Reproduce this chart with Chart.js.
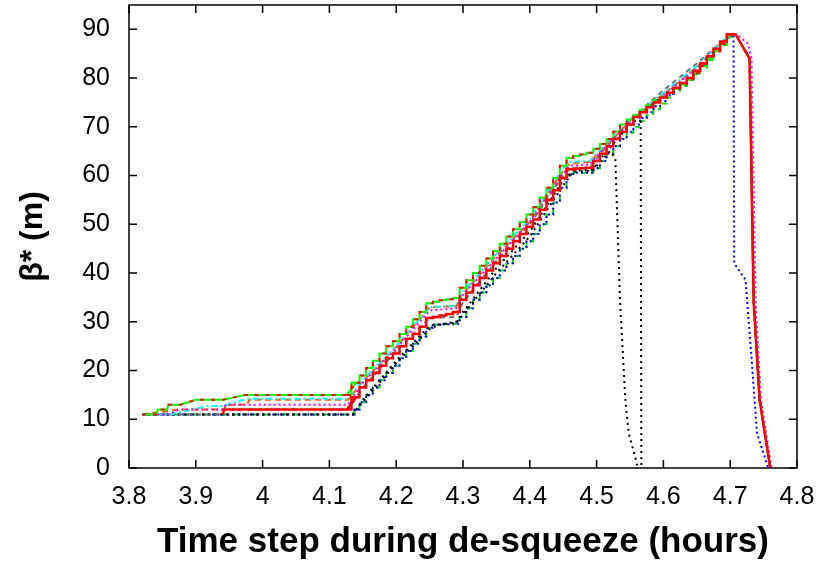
<!DOCTYPE html>
<html>
<head>
<meta charset="utf-8">
<script src="https://cdn.jsdelivr.net/npm/chart.js@4.4.1/dist/chart.umd.min.js"></script>
<style>
  body { margin: 0; background: #fff; }
  #wrap { width: 823px; height: 567px; }
</style>
</head>
<body>
<div id="wrap"><canvas id="betaChart"></canvas></div>
<script>
// shared time grid for the rising part (hours)
var riseT = [4.14,4.15,4.16,4.17,4.18,4.19,4.20,4.21,4.22,4.23,4.24,
             4.25,4.26,4.27,4.28,4.29,
             4.30,4.31,4.32,4.33,4.34,4.35,4.36,4.37,4.38,4.39,4.40,4.41,4.42,4.43,4.44,4.45,
             4.46,4.47,4.48,4.49,
             4.50,4.51,4.52,4.53,4.54,4.55,4.56,4.57,4.58,4.59,4.60,4.61,4.62,4.63,4.64,4.65,4.66,4.67,4.68,4.69,4.70];

// red solid
var redHeadT = [3.94,3.943,4.126];
var redHeadV = [11,12,12];
var redRise = [14.5,16.5,18,19.5,21,22.5,23.5,25,26.5,27.5,29,
               30.8,31,31.3,31.6,32,
               34.5,36,37.5,39,40.5,42,43.5,45,46.5,48,49.5,51,53,55,57,59.5,
               61.3,61.4,61.5,61.6,
               63,64.5,66,67.5,69,70.5,72,73,74,75,76,77,78,79,80,81.5,83,84.5,86,87.5,89];
var redTailT = [4.708,4.725,4.729,4.735,4.744,4.76];
var redTailV = [89,85,84,34.5,14,0];

// green (top envelope)
var greenHeadT = [3.82,3.841,3.843,3.857,3.859,3.877,3.9,3.941,3.974,4.126];
var greenHeadV = [11,11,12,12,13,13,14,14,15,15];
var greenRise = [17.5,19,20.5,22,23.5,25,26,27.5,29,30.5,32,
                 33.8,34.1,34.4,34.6,34.9,
                 37,38.5,40,41.5,43,44.5,46,47.5,49,50.5,52,53.5,55.5,57.5,59.5,62,
                 63.6,64,64.3,64.7,
                 65.5,66.5,67.5,69,70.5,71.5,72.5,73.5,74.5,75.5,76.2,77,77.8,78.7,79.7,81,82.5,84,85.5,87,88.8];
var greenTailT = [4.708,4.725,4.729,4.735,4.744,4.76];
var greenTailV = [89,84.8,84,34.5,14,0];

// blue dotted (bottom envelope)
var blueHeadT = [3.82,4.135];
var blueHeadV = [11,11];
var blueRise = [12,13.5,15,16.5,18,19.5,21,22.5,24,25.5,27,
                28.8,29.4,29.5,29.5,29.6,
                31,32.8,34.5,36,37.5,39,40.5,42,43.5,45,46.5,48,50,52,54.5,57.5,
                60,60.6,60.6,60.6,
                61.5,63,64.5,66,67.5,69,70.5,71.8,73,74.2,75.3,76.5,77.7,78.8,80,81.3,82.7,84.2,85.7,87.2,88.7];
var blueTailT = [4.705,4.706,4.723,4.733,4.74,4.757];
var blueTailV = [89,42,38.6,20.7,7.2,0];

// green dashed lower line
var green2HeadT = [3.82,4.135];
var green2HeadV = [11,11];
var green2Rise = [12,13.5,15,16.5,18,19.5,21,22.5,24,25.5,27,
                  28.8,29.4,29.5,29.5,29.6,
                  31,32.8,34.5,36,37.5,39,40.5,42,43.5,45,46.5,48,50,52,54.5,57.5,
                  60,60.6,60.6,60.6,
                  61.5,63,64.5,66,67.5,68.8,70,71.2,72.4,73.6,74.8,76,77.2,78.4,79.6,80.8,82.2,83.7,85.3,86.8,88.3];
var green2TailT = [4.708,4.725,4.73,4.736,4.745,4.76];
var green2TailV = [89,84.8,84,34.5,14,0];

// magenta dotted
var magentaT = [3.82,3.86,3.875,3.94,3.945,4.128,4.15,4.2,4.25,4.29,4.3,4.35,4.4,4.45,4.46,4.49,4.5,4.55,4.6,4.65,4.7,4.71,4.727,4.732,4.738,4.746,4.762];
var magentaV = [11,11,12,12,13,13,17.5,24.5,32.3,32.8,35.5,43,50.5,60.5,62,62.3,64,71,76.5,82,89,89,87,84,34.5,14,0];

// cyan dash-dot
var cyanT = [3.82,3.862,3.917,3.94,3.977,4.128,4.15,4.2,4.25,4.29,4.3,4.35,4.4,4.45,4.46,4.49,4.5,4.55,4.6,4.65,4.7,4.708,4.725,4.729,4.735,4.744,4.76];
var cyanV = [11,11,12.7,12.7,14.2,14.2,18,25,33,33.3,36,44,51,61.5,62.8,63,64.5,71.5,77,82.5,89,89,85,84,34.5,14,0];

// orange dashed
var orangeT = [3.82,3.874,3.943,3.945,3.977,3.98,4.128,4.15,4.2,4.25,4.29,4.3,4.35,4.4,4.45,4.46,4.49,4.5,4.55,4.6,4.65,4.7,4.708,4.725,4.729,4.735,4.744,4.76];
var orangeV = [11,12,12,13,13,14,14,17.8,24.8,33,33.2,35.8,43.5,50.5,61,62.5,62.8,64.2,71.2,76.7,82.2,89,89,85,84,34.5,14,0];

// black dotted, drops early (curved)
var black1T = [3.82,4.135,4.15,4.2,4.25,4.265,4.29,4.3,4.35,4.4,4.45,4.465,4.495,4.5,4.52,4.528,4.535,4.543,4.548,4.555,4.562];
var black1V = [11,11,13.5,21.5,28.5,29.4,29.8,31.5,40,47.5,58,60.8,61,62,65,63.6,34.5,14,7.2,3.7,0];

// black dotted, vertical drop
var black2T = [3.82,4.135,4.15,4.2,4.25,4.29,4.3,4.35,4.4,4.45,4.465,4.495,4.5,4.55,4.566,4.567];
var black2V = [11,11,14,22,29.2,30,32,41,48.5,59,61,61.2,62.5,70.5,72,0];

// grey dashed
var greyT = [3.82,3.935,3.94,4.128,4.15,4.2,4.25,4.29,4.3,4.35,4.4,4.45,4.46,4.49,4.5,4.55,4.6,4.65,4.7,4.708,4.725,4.729,4.735,4.744,4.76];
var greyV = [11,11,12,12,16.5,24,30.8,31,34,42.5,50,60,61.5,61.7,63.5,71.5,77.5,83,89,89,85,84,34.5,14,0];

var xTicks = [3.8,3.9,4.0,4.1,4.2,4.3,4.4,4.5,4.6,4.7,4.8];
var yTicks = [0,10,20,30,40,50,60,70,80,90];

function pts(t, v) {
    return t.map(function (x, i) { return {x: x, y: v[i]}; });
}

function line(data, color, width, dash, stepped) {
    return {
        data: data,
        borderColor: color,
        backgroundColor: color,
        borderWidth: width,
        borderDash: dash || [],
        stepped: stepped || false,
        pointRadius: 0,
        fill: false,
        tension: 0
    };
}

// the flat start and the drop are plain lines, the climb is drawn as stairs
function stairSeries(headT, headV, rise, tailT, tailV, color, width, dash) {
    var head = pts(headT, headV);
    var mid = pts(riseT, rise);
    var tail = pts(tailT, tailV);
    return [
        line([head[head.length - 1]].concat(mid), color, width, dash, 'middle'),
        line(head.concat([mid[0]]), color, width, dash),
        line([mid[mid.length - 1]].concat(tail), color, width, dash)
    ];
}

// first dataset is drawn on top
var datasets = [].concat(
    stairSeries(redHeadT, redHeadV, redRise, redTailT, redTailV, '#ff0000', 2.5, []),
    stairSeries(greenHeadT, greenHeadV, greenRise, greenTailT, greenTailV, '#ff0000', 2, [4, 7]),
    stairSeries(greenHeadT, greenHeadV, greenRise, greenTailT, greenTailV, '#00ff00', 2, []),
    [
        line(pts(magentaT, magentaV), '#ff00ff', 2, [2, 3]),
        line(pts(cyanT, cyanV), '#00ffff', 2, [6, 3, 2, 3]),
        line(pts(orangeT, orangeV), '#ff5a00', 2, [6, 4]),
        line(pts(greyT, greyV), '#707070', 2, [5, 4]),
        line(pts(black1T, black1V), '#000000', 2, [2, 4]),
        line(pts(black2T, black2V), '#000000', 2, [2, 4])
    ],
    stairSeries(blueHeadT, blueHeadV, blueRise, blueTailT, blueTailV, '#0000ff', 2, [2, 3]),
    stairSeries(green2HeadT, green2HeadV, green2Rise, green2TailT, green2TailV, '#00e000', 2, [5, 5])
);

// box round the plot with inward ticks on all four sides
var frame = {
    id: 'frame',
    afterDatasetsDraw: function (chart) {
        var ctx = chart.ctx, a = chart.chartArea;
        var sx = chart.scales.x, sy = chart.scales.y;
        ctx.save();
        ctx.strokeStyle = '#000';
        ctx.lineWidth = 1.5;
        ctx.strokeRect(a.left, a.top, a.right - a.left, a.bottom - a.top);
        ctx.beginPath();
        xTicks.forEach(function (v) {
            var px = sx.getPixelForValue(v);
            ctx.moveTo(px, a.bottom); ctx.lineTo(px, a.bottom - 8);
            ctx.moveTo(px, a.top); ctx.lineTo(px, a.top + 8);
        });
        yTicks.forEach(function (v) {
            var py = sy.getPixelForValue(v);
            ctx.moveTo(a.left, py); ctx.lineTo(a.left + 8, py);
            ctx.moveTo(a.right, py); ctx.lineTo(a.right - 8, py);
        });
        ctx.stroke();
        ctx.restore();
    }
};

Chart.defaults.font.family = "'Liberation Sans', Arial, Helvetica, sans-serif";
Chart.defaults.color = '#000';

var ctx = document.getElementById('betaChart').getContext('2d');
var myChart = new Chart(ctx, {
    type: 'line',
    data: { datasets: datasets },
    options: {
        responsive: true,
        maintainAspectRatio: false,
        animation: false,
        events: [],
        layout: { autoPadding: false, padding: { top: 5, right: 26, left: 0, bottom: 0 } },
        scales: {
            x: {
                type: 'linear',
                min: 3.8,
                max: 4.8,
                afterFit: function (s) {
                    s.height = 99;
                    s.paddingLeft = 0; s.paddingRight = 0;
                },
                afterBuildTicks: function (s) {
                    s.ticks = xTicks.map(function (v) { return {value: v}; });
                },
                grid: { display: false, drawTicks: false },
                border: { display: false },
                ticks: {
                    autoSkip: false,
                    maxRotation: 0,
                    padding: 14,
                    font: { size: 25 },
                    callback: function (v) { return String(Math.round(v * 10) / 10); }
                },
                title: {
                    display: true,
                    text: 'Time step during de-squeeze (hours)',
                    font: { size: 35, weight: 'bold' },
                    padding: { top: 0, bottom: 4 }
                }
            },
            y: {
                min: 0,
                max: 95,
                afterFit: function (s) {
                    s.width = 129;
                    s.paddingTop = 0; s.paddingBottom = 0;
                },
                afterBuildTicks: function (s) {
                    s.ticks = yTicks.map(function (v) { return {value: v}; });
                },
                grid: { display: false, drawTicks: false },
                border: { display: false },
                ticks: {
                    padding: 19,
                    font: { size: 25 }
                },
                title: {
                    display: true,
                    text: 'β* (m)',
                    font: { size: 32, weight: 'bold' },
                    padding: { top: 14, bottom: 0 }
                }
            }
        },
        plugins: {
            legend: { display: false },
            tooltip: { enabled: false }
        }
    },
    plugins: [frame]
});
</script>
</body>
</html>
